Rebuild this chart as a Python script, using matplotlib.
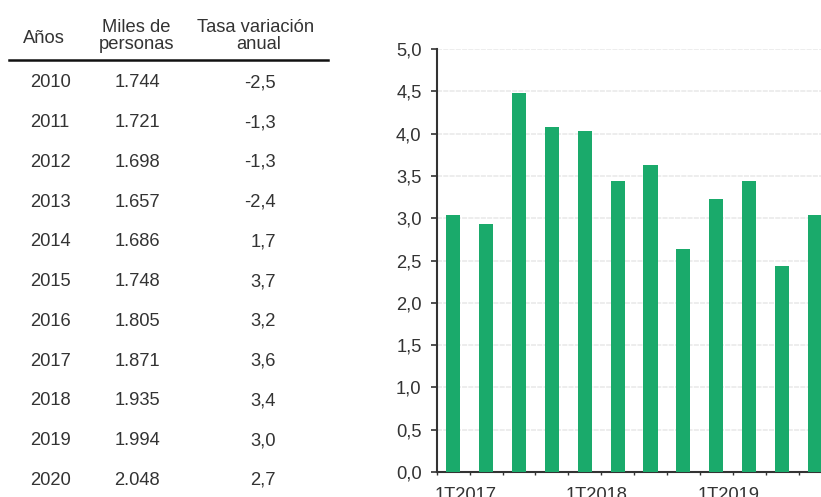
import matplotlib
matplotlib.use("Agg")
import matplotlib.pyplot as plt
import matplotlib.transforms as mtransforms
from matplotlib.lines import Line2D

# ---- data ----
years = ["2010", "2011", "2012", "2013", "2014", "2015", "2016", "2017", "2018", "2019", "2020"]
miles_personas = ["1.744", "1.721", "1.698", "1.657", "1.686", "1.748", "1.805", "1.871", "1.935", "1.994", "2.048"]
tasa_variacion = ["-2,5", "-1,3", "-1,3", "-2,4", "1,7", "3,7", "3,2", "3,6", "3,4", "3,0", "2,7"]

quarter_values = [3.04, 2.93, 4.48, 4.08, 4.03, 3.44, 3.63, 2.64, 3.23, 3.44, 2.43, 3.04]
quarter_labels = ["1T2017", "1T2018", "1T2019"]
quarter_label_pos = [0, 4, 8]
y_ticks = [0.0, 0.5, 1.0, 1.5, 2.0, 2.5, 3.0, 3.5, 4.0, 4.5, 5.0]

# ---- style ----
W, H = 821, 497
FONT = "Liberation Sans"
FS = 13.2
TXT = "#333333"
BAR = "#1aaa6b"

plt.rcParams["font.family"] = [FONT, "DejaVu Sans"]
fig = plt.figure(figsize=(W / 100, H / 100), dpi=100)

def fx(px):
    return px / W

def fy(py):
    return 1 - py / H

# ---- table ----
fig.text(fx(44.3), fy(43.3), "Años", ha="center", va="baseline", fontsize=FS, color=TXT)
fig.text(fx(136.3), fy(31.7), "Miles de", ha="center", va="baseline", fontsize=FS, color=TXT)
fig.text(fx(136.3), fy(49.3), "personas", ha="center", va="baseline", fontsize=FS, color=TXT)
fig.text(fx(255.5), fy(31.7), "Tasa variación", ha="center", va="baseline", fontsize=FS, color=TXT)
fig.text(fx(258.8), fy(49.3), "anual", ha="center", va="baseline", fontsize=FS, color=TXT)
fig.add_artist(Line2D([fx(8.7), fx(327.7)], [fy(60), fy(60)], color="#111111", lw=1.8,
                      transform=fig.transFigure))

for i, (yr, mp, tv) in enumerate(zip(years, miles_personas, tasa_variacion)):
    base = 87.3 + 39.75 * i
    fig.text(fx(50), fy(base), yr, ha="center", va="baseline", fontsize=FS, color=TXT)
    fig.text(fx(114.5), fy(base), mp, ha="left", va="baseline", fontsize=FS, color=TXT)
    fig.text(fx(276), fy(base), tv, ha="right", va="baseline", fontsize=FS, color=TXT)

# ---- bar chart ----
left, right = 436.8, 831.4
top, bottom = 49, 472
ax = fig.add_axes([fx(left), 1 - bottom / H, (right - left) / W, (bottom - top) / H])
n = len(quarter_values)
xs = [i + 0.5 for i in range(n)]
ax.bar(xs, quarter_values, width=0.43, color=BAR, zorder=3)
ax.set_xlim(0, n)
ax.set_ylim(0, 5)

ax.set_yticks(y_ticks)
ax.set_yticklabels([f"{v:.1f}".replace(".", ",") for v in y_ticks])
ax.yaxis.grid(True, color="#e8e8e8", linestyle=(0, (3.3, 0.8)), linewidth=1.1, zorder=0)
ax.set_axisbelow(True)

ax.set_xticks(range(n + 1))
lbls = [""] * (n + 1)
for p, l in zip(quarter_label_pos, quarter_labels):
    lbls[p] = l
ax.set_xticklabels(lbls)

for s in ["top", "right"]:
    ax.spines[s].set_visible(False)
for s in ["left", "bottom"]:
    ax.spines[s].set_color("#333333")
    ax.spines[s].set_linewidth(1.5)

ax.tick_params(axis="y", direction="out", length=4.5, width=1.2, color="#333333",
               pad=6.5, labelsize=FS, labelcolor=TXT)
ax.tick_params(axis="x", direction="out", length=2, width=1.0, color="#333333",
               pad=9, labelsize=FS, labelcolor=TXT)

offset = mtransforms.ScaledTranslation(-2.5 / 100, 0, fig.dpi_scale_trans)
for lab in ax.get_xticklabels():
    lab.set_ha("left")
    lab.set_transform(lab.get_transform() + offset)

fig.savefig("out.png", dpi=100)
